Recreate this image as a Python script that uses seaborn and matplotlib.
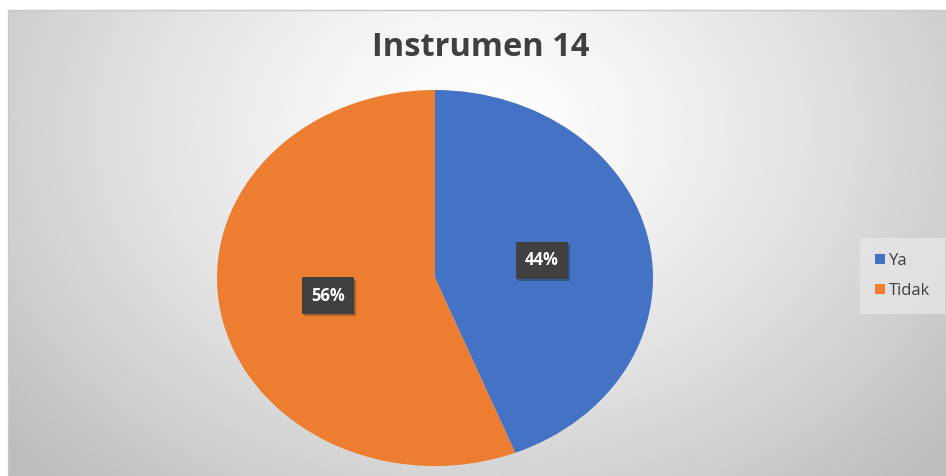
import numpy as np
import matplotlib
matplotlib.use("Agg")
import matplotlib.pyplot as plt
import matplotlib.patheffects as pe
import seaborn as sns

title = "Instrumen 14"
categories = ["Ya", "Tidak"]
values = [44, 56]
colors = ["#4472C4", "#ED7D31"]

sns.set_theme(style="white")
plt.rcParams["font.family"] = ["Open Sans", "DejaVu Sans"]

W, H = 946, 476
fig = plt.figure(figsize=(W / 100, H / 100), dpi=100)
fig.patch.set_facecolor("white")

# background panel with radial gradient
bx0, by1 = 8, 10
bg = fig.add_axes([bx0 / W, 0, 1 - bx0 / W, 1 - by1 / H])
ny, nx = 200, 400
yy, xx = np.mgrid[0:ny, 0:nx]
cx, cy = nx * 0.5, ny * 0.25
d = np.sqrt(((xx - cx) / (nx * 0.6)) ** 2 + ((yy - cy) / (ny * 0.95)) ** 2)
shade = 1.0 - 0.23 * np.clip(d, 0, 1.1) ** 1.3
bg.imshow(shade, cmap="gray", vmin=0, vmax=1, aspect="auto", interpolation="bilinear")
bg.set_axis_off()
fig.add_artist(plt.Line2D([bx0 / W, 1], [1 - by1 / H, 1 - by1 / H], color="#c8c8c8", lw=1))
fig.add_artist(plt.Line2D([bx0 / W, bx0 / W], [0, 1 - by1 / H], color="#c8c8c8", lw=1))

# pie (elliptical)
px0, px1, py0, py1 = 217, 653, 90, 466
ax = fig.add_axes([px0 / W, (H - py1) / H, (px1 - px0) / W, (py1 - py0) / H])
ax.set_facecolor("none")
wedges, texts, autotexts = ax.pie(
    values, colors=colors, startangle=90, counterclock=False,
    autopct="%1.0f%%", pctdistance=0.5, radius=1,
    wedgeprops=dict(linewidth=0),
    textprops=dict(color="white", fontsize=12, fontweight="bold"),
)
for t in autotexts:
    t.set_bbox(dict(boxstyle="square,pad=0.55", facecolor="#404040", edgecolor="none"))
    t.get_bbox_patch().set_path_effects([pe.SimplePatchShadow(offset=(1.5, -1.5), alpha=0.3), pe.Normal()])
ax.set_aspect("auto")
ax.set_xlim(-1, 1)
ax.set_ylim(-1, 1)
ax.set_axis_off()

fig.text(481 / W, 1 - 47 / H, title, ha="center", va="center",
         fontsize=23.5, fontweight="bold", color="#404040")

leg = fig.legend(wedges, categories, loc="center right", bbox_to_anchor=(940 / W, 1 - 276 / H),
                 frameon=True, fontsize=12, handlelength=0.55, handleheight=0.55,
                 handletextpad=0.25, labelspacing=0.8, borderpad=0.6, labelcolor="#404040",
                 borderaxespad=0)
leg.get_frame().set_facecolor("#e6e6e6")
leg.get_frame().set_edgecolor("none")
leg.get_frame().set_alpha(0.8)
leg.get_frame().set_boxstyle("square")

fig.savefig("out.png", dpi=100)
